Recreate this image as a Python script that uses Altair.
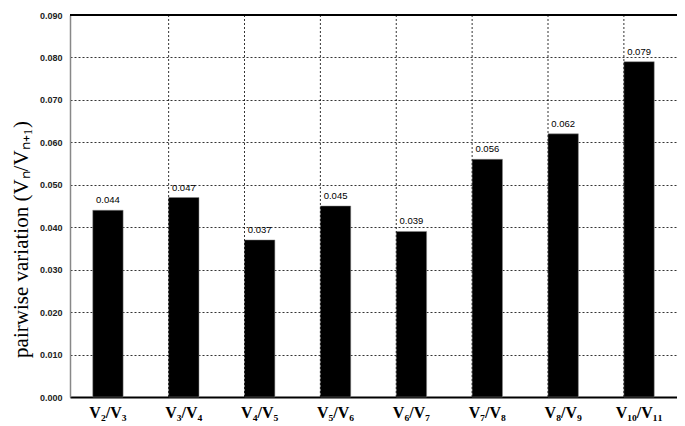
import altair as alt
import pandas as pd

categories = ["V₂/V₃", "V₃/V₄", "V₄/V₅", "V₅/V₆", "V₆/V₇", "V₇/V₈", "V₈/V₉", "V₁₀/V₁₁"]
values = [0.044, 0.047, 0.037, 0.045, 0.039, 0.056, 0.062, 0.079]
labels = ["0.044", "0.047", "0.037", "0.045", "0.039", "0.056", "0.062", "0.079"]

df = pd.DataFrame({"cat": categories, "val": values, "lab": labels, "idx": list(range(len(categories)))})

W, H = 607, 382

xscale = alt.Scale(domain=categories, paddingInner=0.6, paddingOuter=0.3)
yscale = alt.Scale(domain=[0, 0.09], nice=False)

base = alt.Chart(df)

bars = base.mark_bar(color="black", stroke="#888888", strokeWidth=0.5).encode(
    x=alt.X("cat:N", scale=xscale, sort=categories,
            axis=alt.Axis(title=None, labelAngle=0, labelFont="Liberation Serif",
                          labelFontWeight="bold", labelFontSize=16, labelColor="black",
                          labelAlign="center", labelBaseline="top", bandPosition=0.5,
                          ticks=False, labelPadding=7, domainColor="black", domainWidth=2,
                          grid=False, orient="bottom")),
    y=alt.Y("val:Q", scale=yscale,
            axis=alt.Axis(title="pairwise variation (Vₙ/Vₙ₊₁)", titleFont="Liberation Serif",
                          titleFontSize=21, titleFontWeight="normal", titleColor="black",
                          titlePadding=8, titleY=224,
                          values=[i / 100 for i in range(10)], format=".3f",
                          labelFont="Liberation Sans", labelFontSize=9, labelFontWeight="bold",
                          labelColor="#222222", ticks=False, labelPadding=8,
                          domainColor="#888888", domainWidth=1.5,
                          grid=True, gridColor="black", gridDash=[2, 2], gridWidth=0.8)),
)

vgrid = base.transform_filter("datum.idx > 0").mark_rule(
    color="black", strokeDash=[2, 2], strokeWidth=0.8
).encode(x=alt.X("cat:N", scale=xscale, sort=categories, bandPosition=0,
                 axis=alt.Axis(orient="top", labels=False, ticks=False, domain=False,
                               grid=False, title=None)))

topline = base.transform_filter("datum.idx == 0").mark_rule(color="black", strokeWidth=2).encode(
    y=alt.datum(0.09), x=alt.value(0), x2=alt.value(W)
)

text = base.mark_text(dy=-10, font="Liberation Sans", fontSize=9.5, color="black").encode(
    x=alt.X("cat:N", scale=xscale, sort=categories, axis=None),
    y=alt.Y("val:Q", scale=yscale),
    text="lab:N",
)

chart = alt.layer(bars, vgrid, text, topline).resolve_axis(x="independent").properties(
    width=W, height=H,
    autosize=alt.AutoSizeParams(type="none"),
    padding={"left": 62, "top": 7, "right": 0, "bottom": 30},
).configure_view(stroke="#888888", strokeWidth=1.5).configure(background="white")

chart.save("out.html", embed_options={"renderer": "svg", "actions": False})
